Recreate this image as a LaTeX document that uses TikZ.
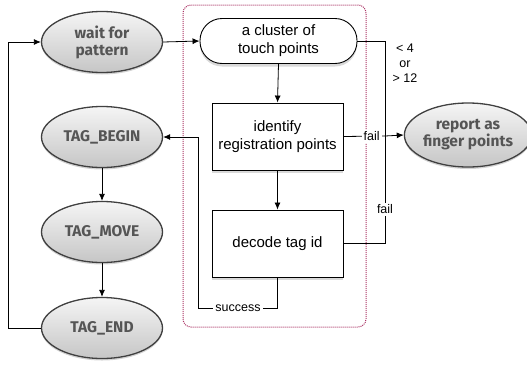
\documentclass[tikz,border=0pt]{standalone}
\usepackage{fontspec}
\setmainfont{Liberation Sans}
\newfontfamily\ovalfont{Fira Sans}
\usetikzlibrary{shapes.geometric,shadows,calc,arrows.meta}
\definecolor{grouppink}{RGB}{170,50,100}
\definecolor{ovaltext}{RGB}{85,85,85}
\tikzset{
  oval/.style={ellipse, draw=black!75, line width=1.3pt, inner sep=0pt,
    minimum width=121pt, minimum height=61pt,
    top color=gray!8, bottom color=gray!45, align=center,
    font=\ovalfont\bfseries\fontsize{15.5}{17}\selectfont, text=ovaltext,
    drop shadow={shadow xshift=0pt, shadow yshift=-2pt, opacity=0.35}},
  stepbox/.style={rectangle, draw, line width=0.9pt, fill=white, align=center,
    minimum width=131pt, minimum height=67pt,
    font=\fontsize{15}{18}\selectfont,
    drop shadow={shadow xshift=0pt, shadow yshift=-3pt, opacity=0.3}},
  lbl/.style={fill=white, inner sep=2pt, font=\fontsize{12.5}{14}\selectfont},
  conn/.style={line width=0.8pt},
  arr/.style={conn, -{Latex[length=7pt,width=6pt]}},
}
\begin{document}
\begin{tikzpicture}[x=1pt,y=1pt]
  \useasboundingbox (0,0) rectangle (527,-367);
  % dotted group
  \draw[grouppink, densely dotted, line width=1pt, rounded corners=8pt]
    (183,-5) rectangle (366,-327);
  % states
  \node[oval] (wait) at (102,-42) {wait for\\pattern};
  \node[oval] (tagbegin) at (102,-137) {TAG\_BEGIN};
  \node[oval] (tagmove) at (102,-232) {TAG\_MOVE};
  \node[oval] (tagend) at (102,-328) {TAG\_END};
  \node[oval, minimum width=117pt, minimum height=64pt] (report) at (468,-135)
    {report as\\finger points};
  % processing steps
  \node[stepbox, rounded corners=22pt, minimum width=157pt, minimum height=45pt]
    (cluster) at (278.5,-41) {a cluster of\\touch points};
  \node[stepbox] (identify) at (277.5,-136.5) {identify\\registration points};
  \node[stepbox] (decode) at (277.5,-243.5) {decode tag id};
  \coordinate (junction) at (385,-136);
  \node[font=\fontsize{12.5}{15}\selectfont, align=center] (range) at (405,-63)
    {< 4\\or\\> 12};
  % connectors
  \draw[arr] (tagend.west) -- ++(-32,0) |- (wait.west);
  \draw[arr] (wait.east) -- (cluster.west);
  \draw[arr] (cluster.south) -- (identify.north);
  \draw[arr] (identify.south) -- (decode.north);
  \draw[arr] (tagbegin.south) -- (tagmove.north);
  \draw[arr] (tagmove.south) -- (tagend.north);
  \draw[conn] (cluster.east) -| (junction);
  \draw[conn] (identify.east) -- node[lbl, pos=0.68] {fail} (junction);
  \draw[conn] (decode.east) -| node[lbl, pos=0.66] {fail} (junction);
  \draw[arr] (junction) -- (report.west);
  \draw[arr] (decode.south) -- ++(0,-31)
    -- node[lbl] {success} ++(-79,0) |- (tagbegin.east);
\end{tikzpicture}
\end{document}
